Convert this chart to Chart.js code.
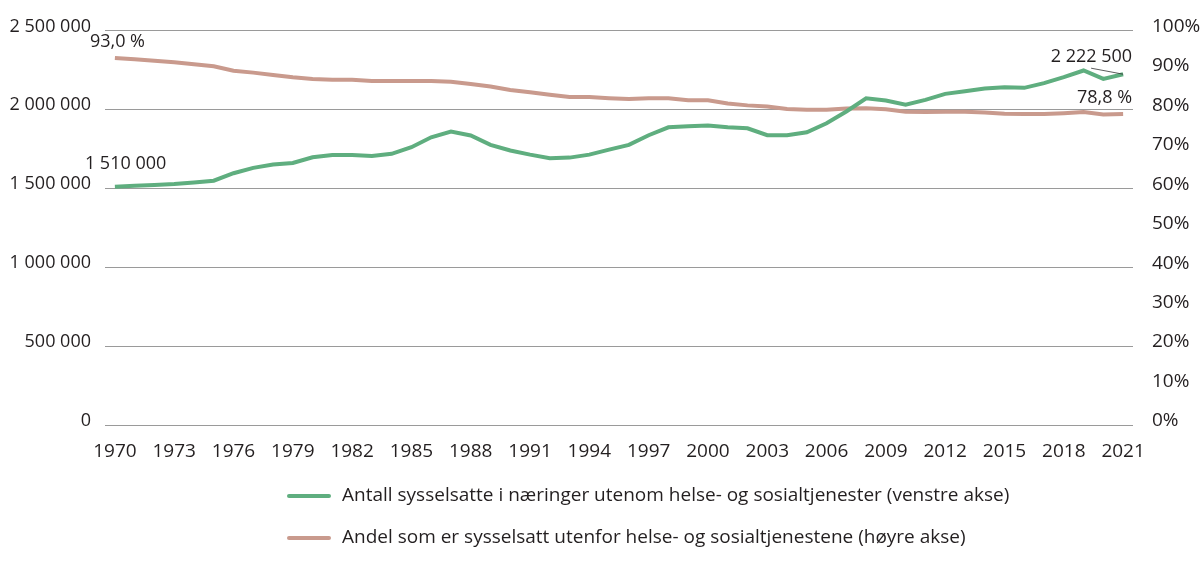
<!DOCTYPE html>
<html>
<head>
<meta charset="utf-8">
<script src="https://cdn.jsdelivr.net/npm/chart.js@4.4.1/dist/chart.umd.min.js"></script>
<style>
  html, body { margin: 0; padding: 0; background: #fff; }
  #wrap { width: 1200px; height: 566px; position: relative; }
</style>
</head>
<body>
<div id="wrap"><canvas id="c" width="1200" height="566"></canvas></div>
<script>
const years = [1970,1971,1972,1973,1974,1975,1976,1977,1978,1979,1980,1981,1982,1983,1984,1985,1986,1987,1988,1989,1990,1991,1992,1993,1994,1995,1996,1997,1998,1999,2000,2001,2002,2003,2004,2005,2006,2007,2008,2009,2010,2011,2012,2013,2014,2015,2016,2017,2018,2019,2020,2021];
const employedOutside = [1510000,1515000,1521000,1527000,1537000,1548000,1595000,1629000,1650000,1660000,1696000,1711000,1711000,1705000,1718000,1760000,1823000,1859000,1834000,1775000,1739000,1713000,1690000,1694000,1713000,1745000,1775000,1836000,1886000,1893000,1897000,1886000,1880000,1836000,1836000,1855000,1912000,1986000,2070000,2056000,2030000,2060000,2098000,2115000,2132000,2140000,2136000,2166000,2204000,2246000,2193000,2222500];
const shareOutside = [93.0,92.7,92.3,91.9,91.4,90.9,89.8,89.3,88.7,88.1,87.7,87.5,87.5,87.2,87.2,87.2,87.2,87.0,86.4,85.8,84.9,84.3,83.7,83.1,83.1,82.8,82.6,82.8,82.8,82.3,82.3,81.5,81.0,80.7,80.1,79.9,79.9,80.2,80.3,80.0,79.4,79.3,79.4,79.4,79.2,78.9,78.8,78.8,79.0,79.3,78.7,78.8];
const leftTicks = [0,500000,1000000,1500000,2000000,2500000];
const rightTicks = [0,10,20,30,40,50,60,70,80,90,100];
const seriesLabels = [
  'Antall sysselsatte i næringer utenom helse- og sosialtjenester (venstre akse)',
  'Andel som er sysselsatt utenfor helse- og sosialtjenestene (høyre akse)'
];
const annotations = [
  { text: '93,0 %', year: 1970, axis: 'y2', value: 93.0, dx: -25, dy: -16, align: 'left' },
  { text: '1 510 000', year: 1970, axis: 'y', value: 1510000, dx: -30, dy: -23, align: 'left' },
  { text: '2 222 500', year: 2021, axis: 'y', value: 2222500, dx: 9, dy: -17, align: 'right', leader: true },
  { text: '78,8 %', year: 2021, axis: 'y2', value: 78.8, dx: 9, dy: -16.5, align: 'right' }
];

const GREEN = '#5fae7f';
const PINK = '#c99a8d';
const TXT = '#231f20';
const FONT = "'Open Sans', 'Noto Sans', sans-serif";

function fmtSpace(n) {
  return String(n).replace(/\B(?=(\d{3})+(?!\d))/g, ' ');
}

const annotationPlugin = {
  id: 'annots',
  afterDatasetsDraw(chart) {
    const ctx = chart.ctx;
    const xs = chart.scales.x;
    ctx.save();
    ctx.font = "18px " + FONT;
    ctx.fillStyle = TXT;
    ctx.textBaseline = 'middle';
    annotations.forEach(a => {
      const idx = years.indexOf(a.year);
      const px = xs.getPixelForValue(idx);
      const py = chart.scales[a.axis].getPixelForValue(a.value);
      ctx.textAlign = a.align;
      ctx.fillText(a.text, px + a.dx, py + a.dy);
      if (a.leader) {
        ctx.strokeStyle = '#333';
        ctx.lineWidth = 0.8;
        ctx.beginPath();
        ctx.moveTo(px - 32, py - 6);
        ctx.lineTo(px, py);
        ctx.stroke();
      }
    });
    ctx.restore();
  }
};

const legendPlugin = {
  id: 'customLegend',
  afterDraw(chart) {
    const ctx = chart.ctx;
    ctx.save();
    ctx.font = "19px " + FONT;
    ctx.fillStyle = TXT;
    ctx.textBaseline = 'middle';
    ctx.textAlign = 'left';
    const rows = [496, 538];
    chart.data.datasets.forEach((ds, i) => {
      const y = rows[i];
      ctx.strokeStyle = ds.borderColor;
      ctx.lineWidth = 4;
      ctx.lineCap = 'round';
      ctx.beginPath();
      ctx.moveTo(289, y);
      ctx.lineTo(329, y);
      ctx.stroke();
      ctx.fillText(ds.label, 342, y);
    });
    ctx.restore();
  }
};

new Chart(document.getElementById('c'), {
  type: 'line',
  data: {
    labels: years.map(String),
    datasets: [
      { label: seriesLabels[0], data: employedOutside, yAxisID: 'y', borderColor: GREEN, backgroundColor: GREEN, borderWidth: 4, pointRadius: 0, tension: 0, order: 1 },
      { label: seriesLabels[1], data: shareOutside, yAxisID: 'y2', borderColor: PINK, backgroundColor: PINK, borderWidth: 4, pointRadius: 0, tension: 0, order: 2 }
    ]
  },
  options: {
    responsive: false,
    animation: false,
    devicePixelRatio: 1,
    layout: { padding: { top: 30, bottom: 101, left: 0, right: 0 } },
    plugins: { legend: { display: false }, tooltip: { enabled: false } },
    scales: {
      x: {
        type: 'category',
        offset: true,
        grid: { display: false, drawTicks: false },
        border: { display: false },
        ticks: {
          autoSkip: false,
          maxRotation: 0,
          color: TXT,
          font: { family: FONT, size: 19 },
          padding: 15,
          callback: function(v, i) { return (years[i] - 1970) % 3 === 0 ? years[i] : ''; }
        },
        afterFit(s) { s.height = 40; }
      },
      y: {
        position: 'left',
        min: 0, max: 2500000,
        afterBuildTicks(s) { s.ticks = leftTicks.map(v => ({ value: v })); },
        grid: { color: '#9a9a9a', lineWidth: 1, drawTicks: false },
        border: { display: false },
        ticks: {
          color: TXT,
          font: { family: FONT, size: 18 },
          padding: 14,
          labelOffset: -4,
          callback: v => fmtSpace(v)
        },
        afterFit(s) { s.width = 105; }
      },
      y2: {
        position: 'right',
        min: 0, max: 100,
        afterBuildTicks(s) { s.ticks = rightTicks.map(v => ({ value: v })); },
        grid: { display: false, drawTicks: false },
        border: { display: false },
        ticks: {
          color: TXT,
          font: { family: FONT, size: 19 },
          padding: 19,
          labelOffset: -4,
          callback: v => v + '%'
        },
        afterFit(s) { s.width = 67; }
      }
    }
  },
  plugins: [annotationPlugin, legendPlugin]
});
</script>
</body>
</html>
